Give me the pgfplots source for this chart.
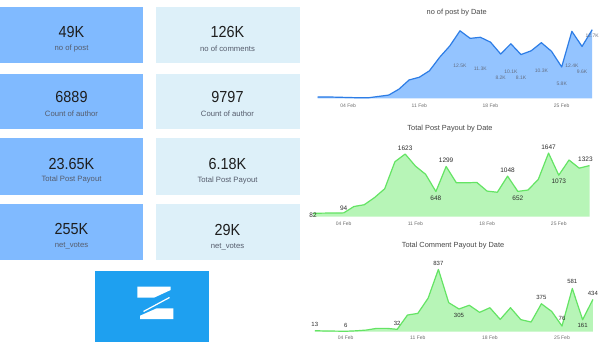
\documentclass[border=0pt]{standalone}
\usepackage{fontspec}
\setmainfont{Liberation Sans}
\newfontfamily\kpifont[FakeStretch=0.9]{Liberation Sans}
\usepackage{pgfplots}
\pgfplotsset{compat=1.18}
\usepackage{pgfplotstable}

\definecolor{cardL}{RGB}{128,186,255}
\definecolor{cardR}{RGB}{221,240,249}
\definecolor{numc}{RGB}{30,30,30}
\definecolor{labc}{RGB}{85,92,108}
\definecolor{logoc}{RGB}{30,160,240}
\definecolor{blueline}{RGB}{45,125,230}
\definecolor{bluefill}{RGB}{148,196,255}
\definecolor{greenline}{RGB}{100,228,100}
\definecolor{greenfill}{RGB}{183,245,183}
\definecolor{titc}{RGB}{70,70,70}
\definecolor{tickc}{RGB}{110,110,110}
\definecolor{dlab}{RGB}{45,45,45}
\definecolor{blab}{RGB}{100,110,130}

\pgfplotstableread{
d v
1 0.25
2 0.25
3 0.2
4 0.15
5 0.1
6 0.1
7 0.35
8 0.6
9 1.7
10 3.4
11 3.9
12 5.1
13 7.6
14 9.7
15 12.5
16 11.1
17 11.3
18 10.4
19 8.2
20 10.1
21 8.1
22 8.8
23 10.3
24 8.7
25 5.8
26 12.4
27 9.6
28 12.7
}\postdata

\pgfplotstableread{
d y lab
15 6.04 12.5K
17 5.43 11.3K
19 3.83 8.2K
20 4.87 10.1K
21 3.83 8.1K
23 5.06 10.3K
25 2.65 5.8K
26 5.98 12.4K
27 4.87 9.6K
28 11.5 12.7K
}\postlab

\pgfplotstableread{
d v
1 82
2 88
3 90
4 94
5 260
6 305
7 490
8 720
9 1424
10 1623
11 1310
12 1095
13 648
14 1299
15 875
16 875
17 885
18 660
19 630
20 1048
21 652
22 688
23 965
24 1647
25 1073
26 1467
27 1255
28 1323
}\payoutdata

\pgfplotstableread{
d y lab
1 30 82
4 213 94
10 1771 1623
13 473 648
14 1449 1299
20 1208 1048
21 473 652
24 1797 1647
25 904 1073
27.6 1486 1323
}\payoutlab

\pgfplotstableread{
d v
1 13
2 10
3 8
4 6
5 12
6 22
7 45
8 45
9 32
10 224
11 246
12 450
13 837
14 390
15 305
16 355
17 260
18 322
19 165
20 322
21 162
22 130
23 375
24 272
25 76
26 581
27 161
28 434
}\commentdata

\pgfplotstableread{
d y lab
1 99 13
4 90 6
9 113 32
13 918 837
15 215 305
23 456 375
25 180 76
26 671 581
27 90 161
28 515 434
}\commentlab

\pgfplotsset{
  dash/.style={
    scale only axis, enlargelimits=false, clip=false,
    hide y axis, axis x line*=bottom,
    x axis line style={draw=none}, xtick style={draw=none},
    xmin=1, xmax=28,
    xtick={4,11,18,25}, xticklabels={04 Feb,11 Feb,18 Feb,25 Feb},
    xticklabel style={font=\fontsize{5}{6}\selectfont, text=tickc, anchor=center},
  }
}

\newcommand{\numf}{\kpifont\fontsize{16}{18}\selectfont\color{numc}}
\newcommand{\labf}{\fontsize{7.7}{9}\selectfont\color{labc}}
\newcommand{\titf}{\fontsize{7.4}{9}\selectfont\color{titc}}

\begin{document}
\begin{tikzpicture}
\path[use as bounding box, fill=white] (0,0) rectangle (602pt,-345pt);
\begin{scope}[x=1pt,y=-1pt]
  \fill[cardL] (0,7) rectangle (143,63);
  \fill[cardR] (156,7) rectangle (300,63);
  \fill[cardL] (0,74) rectangle (143,129);
  \fill[cardR] (156,74) rectangle (300,129);
  \fill[cardL] (0,138) rectangle (143,195);
  \fill[cardR] (156,138) rectangle (300,195);
  \fill[cardL] (0,204) rectangle (143,260);
  \fill[cardR] (156,204) rectangle (300,260);

  \node at (71.5,32.3) {\numf 49K};
  \node at (71.5,48.3) {\labf no of post};
  \node at (227.5,32.3) {\numf 126K};
  \node at (227.5,48.3) {\labf no of comments};
  \node at (71.5,97.3) {\numf 6889};
  \node at (71.5,113.7) {\labf Count of author};
  \node at (227.5,97.3) {\numf 9797};
  \node at (227.5,113.7) {\labf Count of author};
  \node at (71.5,163.5) {\numf 23.65K};
  \node at (71.5,180) {\labf Total Post Payout};
  \node at (227.5,164) {\numf 6.18K};
  \node at (227.5,180.3) {\labf Total Post Payout};
  \node at (71.5,229.3) {\numf 255K};
  \node at (71.5,245.7) {\labf net\_votes};
  \node at (227.5,230) {\numf 29K};
  \node at (227.5,246.5) {\labf net\_votes};

  % logo
  \fill[logoc] (95,271) rectangle (209,342);
  \fill[white] (137.3,286.7) -- (170.7,286.7) -- (170.7,290) -- (154,297.7) -- (137.3,297.7) -- cycle;
  \fill[white] (140,319) -- (173.3,319) -- (173.3,308.3) -- (156.7,308.3) -- (140,315.7) -- cycle;
  \draw[white, line width=1.2pt] (169.5,297.5) -- (143.5,311.5);

  % titles
  \node at (456.7,13) {\titf no of post by Date};
  \node at (450,128.3) {\titf Total Post Payout by Date};
  \node at (453,246) {\titf Total Comment Payout by Date};
\end{scope}

% chart 1
\begin{axis}[dash, at={(317.6pt,-98.3pt)}, anchor=south west,
  width=274.6pt, height=70.2pt, ymin=0, ymax=13,
  xticklabel style={yshift=-7.7pt}]
  \addplot[fill=bluefill, draw=none] table[x=d,y=v]{\postdata} \closedcycle;
  \addplot[blueline, line width=1.2pt, mark=none, line join=round] table[x=d,y=v]{\postdata};
  \addplot[draw=none, mark=none, nodes near coords, point meta=explicit symbolic,
    nodes near coords style={anchor=center, inner sep=0pt, font=\fontsize{5}{6}\selectfont, text=blab}]
    table[x=d,y=y,meta=lab]{\postlab};
\end{axis}

% chart 2
\begin{axis}[dash, at={(313pt,-216.5pt)}, anchor=south west,
  width=276.5pt, height=69.3pt, ymin=0, ymax=1800,
  xticklabel style={yshift=-6.8pt}]
  \addplot[fill=greenfill, draw=none] table[x=d,y=v]{\payoutdata} \closedcycle;
  \addplot[greenline, line width=1.2pt, mark=none, line join=round] table[x=d,y=v]{\payoutdata};
  \addplot[draw=none, mark=none, nodes near coords, point meta=explicit symbolic,
    nodes near coords style={anchor=center, inner sep=0pt, font=\fontsize{6.5}{7}\selectfont, text=dlab}]
    table[x=d,y=y,meta=lab]{\payoutlab};
\end{axis}

% chart 3
\begin{axis}[dash, at={(314.8pt,-331.7pt)}, anchor=south west,
  width=278.1pt, height=67pt, ymin=0, ymax=900,
  xticklabel style={yshift=-6pt}]
  \addplot[fill=greenfill, draw=none] table[x=d,y=v]{\commentdata} \closedcycle;
  \addplot[greenline, line width=1.2pt, mark=none, line join=round] table[x=d,y=v]{\commentdata};
  \addplot[draw=none, mark=none, nodes near coords, point meta=explicit symbolic,
    nodes near coords style={anchor=center, inner sep=0pt, font=\fontsize{6}{7}\selectfont, text=dlab}]
    table[x=d,y=y,meta=lab]{\commentlab};
\end{axis}
\end{tikzpicture}
\end{document}
